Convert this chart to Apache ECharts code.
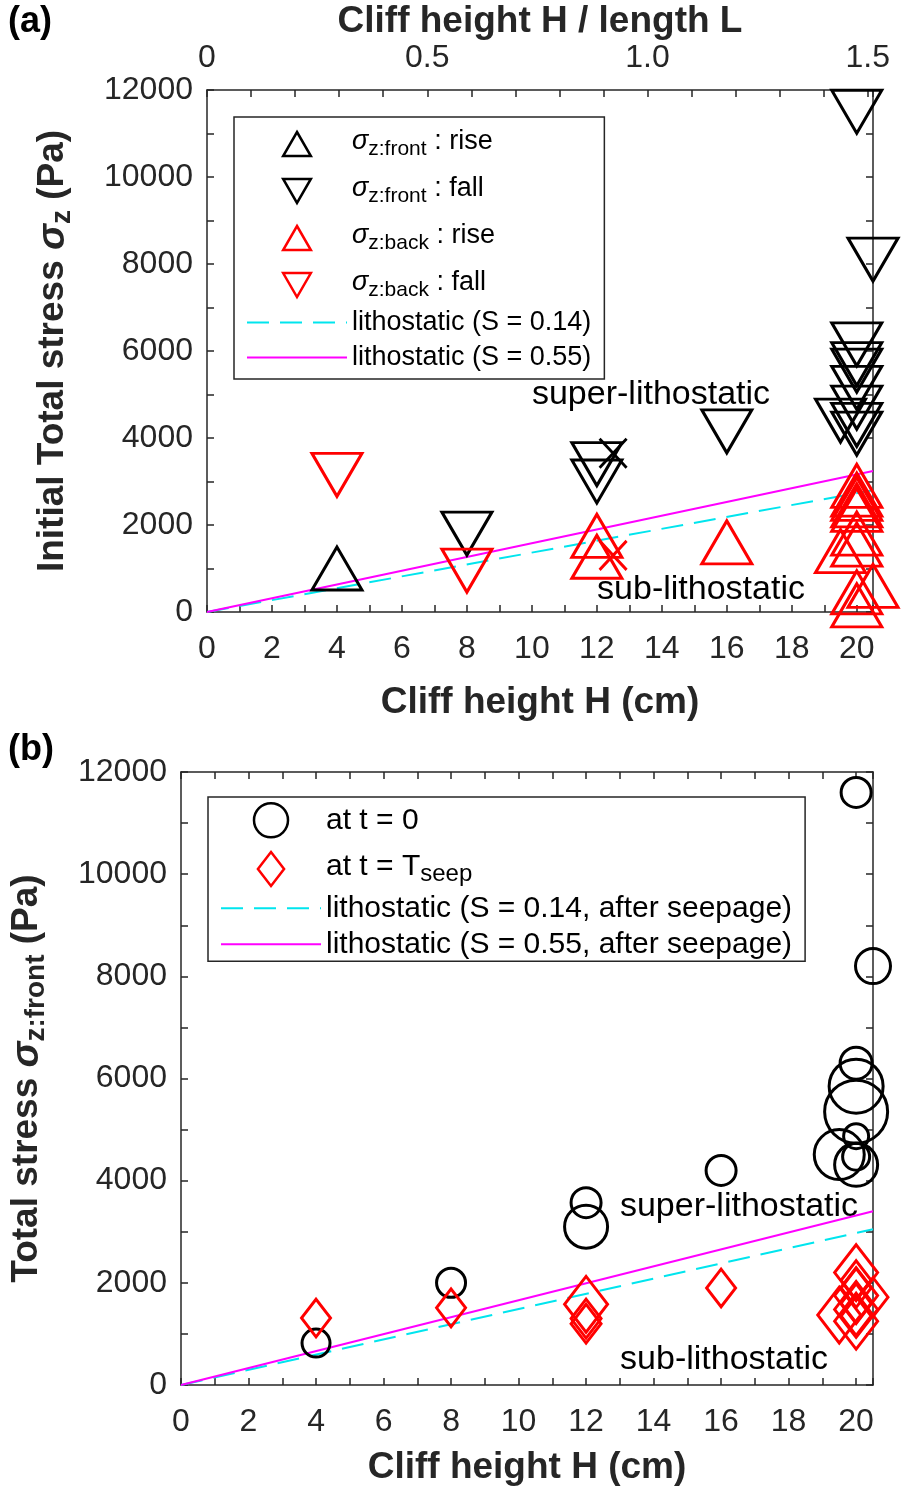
<!DOCTYPE html>
<html>
<head>
<meta charset="utf-8">
<script src="https://cdn.jsdelivr.net/npm/echarts@6/dist/echarts.min.js"></script>
<style>
html, body { margin: 0; padding: 0; background: #fff; }
#main { width: 910px; height: 1488px; }
</style>
</head>
<body>
<div id="main"></div>
<script>
// ---- panel (a) : initial total stress (Pa) vs cliff height H (cm)
var frontRise = [[4, 1000]];
var frontFall = [[8, 1800], [12, 3400], [12, 3000], [16, 4150], [20, 11500], [20.5, 8100],
                 [20, 6150], [20, 5700], [20, 5550], [20, 5150], [20, 4700], [19.5, 4400], [20, 4300], [20, 4100]];
var backRise = [[12, 1750], [12, 1270], [16, 1600], [20, 2900], [20, 2700], [20, 2600], [20, 2450],
                [20, 2350], [20, 1800], [20, 1550], [19.5, 1400], [20.5, 600], [20, 450], [20, 150]];
var backFall = [[4, 3150], [8, 950]];
var frontCross = [[12.5, 3650]];
var backCross = [[12.5, 1300]];
var lithoA014 = [[0, 0], [20.5, 2800]];
var lithoA055 = [[0, 0], [20.5, 3240]];

// ---- panel (b) : total stress at front
var atT0 = [[4, 820], [8, 2000], [12, 3570], [12, 3100], [16, 4200], [20, 11600], [20.5, 8200],
            [20, 6300], [20, 5850], [20, 5350], [20, 4870], [19.5, 4510], [20, 4310], [20, 4470]];
var atSeep = [[4, 1310], [8, 1510], [12, 1580], [12, 1300], [12, 1200], [16, 1900],
              [20, 2200], [20, 2050], [20, 1900], [20.5, 1720], [20, 1750], [20, 1600],
              [20, 1480], [19.5, 1370], [20, 1350], [20, 1250]];
var lithoB014 = [[0, 0], [20.5, 3050]];
var lithoB055 = [[0, 0], [20.5, 3400]];

// top axis of (a): H / L, L = 13.56 cm
var lengthL = 13.56;
var xMax = 20.5;

// marker widths for panel (b)
var t0Size = [28, 29, 30, 43, 30, 30, 35, 32, 54, 63, 25, 50, 43, 27];
var seepSize = [29, 29, 43, 30, 30, 29, 43, 30, 30, 30, 43, 30, 43, 43, 30, 43];

var ff = '"Liberation Sans", Arial, sans-serif';
var axisColor = '#262626';
var triUp = 'path://M1,0L2,1.732L0,1.732Z';
var triDown = 'path://M0,0L2,0L1,1.732Z';
var cross = 'path://M0,0L1,1M1,0L0,1';
var diamond = 'path://M1,0L2,1.3L1,2.6L0,1.3Z';

var titleStyle = { fontSize: 37, fontWeight: 'bold', color: axisColor, fontFamily: ff };
var titleRich = {
	b: { fontSize: 37, fontWeight: 'bold', color: axisColor, fontFamily: ff, lineHeight: 42, verticalAlign: 'top' },
	bs: { fontSize: 39, fontWeight: 'bold', fontStyle: 'italic', color: axisColor, fontFamily: ff, lineHeight: 42, verticalAlign: 'top' },
	bsub: { fontSize: 28, fontWeight: 'bold', color: axisColor, fontFamily: ff, lineHeight: 28, padding: [22, 0, 0, 0], verticalAlign: 'bottom' }
};
function legendRich(fs) {
	return {
		m: { fontSize: fs, fontFamily: ff, color: '#000', lineHeight: fs + 5, verticalAlign: 'top' },
		s: { fontSize: fs, fontFamily: ff, fontStyle: 'italic', color: '#000', lineHeight: fs + 5, verticalAlign: 'top' },
		sub: { fontSize: fs - 6, fontFamily: ff, color: '#000', lineHeight: 20, padding: [18, 0, 0, 0], verticalAlign: 'bottom' },
		l: { fontSize: fs, fontFamily: ff, color: '#000', lineHeight: fs + 1 }
	};
}
var legendText = {
	'front rise': '{s|σ}{sub|z:front}{m| : rise}',
	'front fall': '{s|σ}{sub|z:front}{m| : fall}',
	'back rise': '{s|σ}{sub|z:back}{m| : rise}',
	'back fall': '{s|σ}{sub|z:back}{m| : fall}',
	'litho 0.14': '{l|lithostatic (S = 0.14)}',
	'litho 0.55': '{l|lithostatic (S = 0.55)}',
	'at t0': '{l|at t = 0}',
	'at seep': '{m|at t = T}{sub|seep}',
	'litho 0.14 seep': '{l|lithostatic (S = 0.14, after seepage)}',
	'litho 0.55 seep': '{l|lithostatic (S = 0.55, after seepage)}'
};

function lineSt() { return { color: axisColor, width: 1.5 }; }

function valueAxis(gridIndex, pos, min, max, interval, minorSplit, showLabel) {
	var vertical = (pos == 'left' || pos == 'right');
	return {
		type: 'value', gridIndex: gridIndex, position: pos,
		min: min, max: max, interval: interval,
		axisLine: { show: true, onZero: false, lineStyle: lineSt() },
		axisTick: { show: true, inside: true, length: 7, lineStyle: lineSt() },
		minorTick: { show: true, splitNumber: minorSplit, length: 7, lineStyle: lineSt() },
		splitLine: { show: false },
		axisLabel: {
			show: showLabel, fontSize: 32, color: axisColor, fontFamily: ff,
			margin: vertical ? 14 : 21, showMaxLabel: vertical,
			formatter: function (v) { return String(v); }
		}
	};
}

var xa0 = valueAxis(0, 'bottom', 0, xMax, 2, 2, true);
xa0.name = 'Cliff height H (cm)';
xa0.nameLocation = 'middle';
xa0.nameGap = 72;
xa0.nameTextStyle = titleStyle;

var xa1 = valueAxis(0, 'top', 0, xMax / lengthL, 0.5, 5, true);
xa1.axisLabel.margin = 16;
xa1.axisLabel.formatter = function (v) { return v == 0 ? '0' : v.toFixed(1); };
xa1.name = 'Cliff height H / length L';
xa1.nameLocation = 'middle';
xa1.nameGap = 50;
xa1.nameTextStyle = titleStyle;

var xa2 = valueAxis(1, 'bottom', 0, xMax, 2, 2, true);
xa2.name = 'Cliff height H (cm)';
xa2.nameLocation = 'middle';
xa2.nameGap = 64;
xa2.nameTextStyle = titleStyle;

var xa3 = valueAxis(1, 'top', 0, xMax, 2, 2, false);

var ya0 = valueAxis(0, 'left', 0, 12000, 2000, 2, true);
ya0.name = '{b|Initial Total stress }{bs|σ}{bsub|z}{b| (Pa)}';
ya0.nameLocation = 'middle';
ya0.nameGap = 131;
ya0.nameTextStyle = { rich: titleRich };

var ya1 = valueAxis(0, 'right', 0, 12000, 2000, 2, false);

var ya2 = valueAxis(1, 'left', 0, 12000, 2000, 2, true);
ya2.name = '{b|Total stress }{bs|σ}{bsub|z:front}{b| (Pa)}';
ya2.nameLocation = 'middle';
ya2.nameGap = 131;
ya2.nameTextStyle = { rich: titleRich };

var ya3 = valueAxis(1, 'right', 0, 12000, 2000, 2, false);

function markerSeries(name, data, symbol, size, color, xi, yi) {
	return {
		name: name, type: 'scatter', xAxisIndex: xi, yAxisIndex: yi,
		data: data, symbol: symbol, symbolSize: size, z: 3,
		itemStyle: { color: 'rgba(0,0,0,0)', borderColor: color, borderWidth: 3, opacity: 1 },
		emphasis: { disabled: true }
	};
}

function lithoSeries(name, data, color, dashed, xi, yi) {
	return {
		name: name, type: 'line', xAxisIndex: xi, yAxisIndex: yi,
		data: data, showSymbol: false, symbol: 'none', z: 2,
		itemStyle: { color: color },
		lineStyle: { color: color, width: 2, type: dashed ? [22, 11] : 'solid' },
		emphasis: { disabled: true }
	};
}

var sizedT0 = [], sizedSeep = [];
for (var i in atT0) sizedT0.push({ value: atT0[i], symbolSize: t0Size[i] });
for (var j in atSeep) sizedSeep.push({ value: atSeep[j], symbolSize: [seepSize[j], seepSize[j] * 1.3] });

// line entries in the legend: only the line, no dot
function lineItem(name) { return { name: name, itemStyle: { opacity: 0 } }; }

function legendBox(data, left, top, padding, gap, itemHeight, fs) {
	return {
		data: data, left: left, top: top, padding: padding, itemGap: gap, itemHeight: itemHeight,
		orient: 'vertical', selectedMode: false, itemWidth: 100,
		borderColor: axisColor, borderWidth: 1.5, backgroundColor: '#fff',
		itemStyle: { borderWidth: 2.5 },
		textStyle: { color: '#000', fontSize: fs, fontFamily: ff, rich: legendRich(fs) },
		formatter: function (name) { return legendText[name]; }
	};
}

var option = {
	animation: false,
	backgroundColor: '#fff',
	grid: [
		{ left: 207, top: 90, width: 666, height: 522, outerBoundsMode: 'none' },
		{ left: 181, top: 772, width: 692, height: 613, outerBoundsMode: 'none' }
	],
	xAxis: [xa0, xa1, xa2, xa3],
	yAxis: [ya0, ya1, ya2, ya3],
	legend: [
		legendBox(['front rise', 'front fall', 'back rise', 'back fall', lineItem('litho 0.14'), lineItem('litho 0.55')],
			234, 117, [4, 13, 8, 12], 8, 24, 27),
		legendBox(['at t0', 'at seep', lineItem('litho 0.14 seep'), lineItem('litho 0.55 seep')],
			208, 797, [5, 13, 2, 12], 6, 34, 30)
	],
	series: [
		lithoSeries('litho 0.14', lithoA014, '#00e5ee', true, 0, 0),
		lithoSeries('litho 0.55', lithoA055, '#ff00ff', false, 0, 0),
		markerSeries('front rise', frontRise, triUp, [50, 43], '#000', 0, 0),
		markerSeries('front fall', frontFall, triDown, [50, 43], '#000', 0, 0),
		markerSeries('back rise', backRise, triUp, [50, 43], '#ff0000', 0, 0),
		markerSeries('back fall', backFall, triDown, [50, 43], '#ff0000', 0, 0),
		markerSeries('front x', frontCross, cross, [27, 29], '#000', 0, 0),
		markerSeries('back x', backCross, cross, [27, 29], '#ff0000', 0, 0),

		lithoSeries('litho 0.14 seep', lithoB014, '#00e5ee', true, 2, 2),
		lithoSeries('litho 0.55 seep', lithoB055, '#ff00ff', false, 2, 2),
		markerSeries('at t0', sizedT0, 'circle', 30, '#000', 2, 2),
		markerSeries('at seep', sizedSeep, diamond, [30, 39], '#ff0000', 2, 2)
	],
	graphic: [
		{ type: 'text', x: 8, y: 22, style: { text: '(a)', font: 'bold 36px ' + ff, fill: '#000', verticalAlign: 'middle' } },
		{ type: 'text', x: 8, y: 750, style: { text: '(b)', font: 'bold 36px ' + ff, fill: '#000', verticalAlign: 'middle' } },
		{ type: 'text', x: 651, y: 395, style: { text: 'super-lithostatic', font: '34px ' + ff, fill: '#000', align: 'center', verticalAlign: 'middle' } },
		{ type: 'text', x: 701, y: 590, style: { text: 'sub-lithostatic', font: '34px ' + ff, fill: '#000', align: 'center', verticalAlign: 'middle' } },
		{ type: 'text', x: 739, y: 1207, style: { text: 'super-lithostatic', font: '34px ' + ff, fill: '#000', align: 'center', verticalAlign: 'middle' } },
		{ type: 'text', x: 724, y: 1360, style: { text: 'sub-lithostatic', font: '34px ' + ff, fill: '#000', align: 'center', verticalAlign: 'middle' } }
	]
};

var myChart = echarts.init(document.getElementById('main'));
myChart.setOption(option);
</script>
</body>
</html>
